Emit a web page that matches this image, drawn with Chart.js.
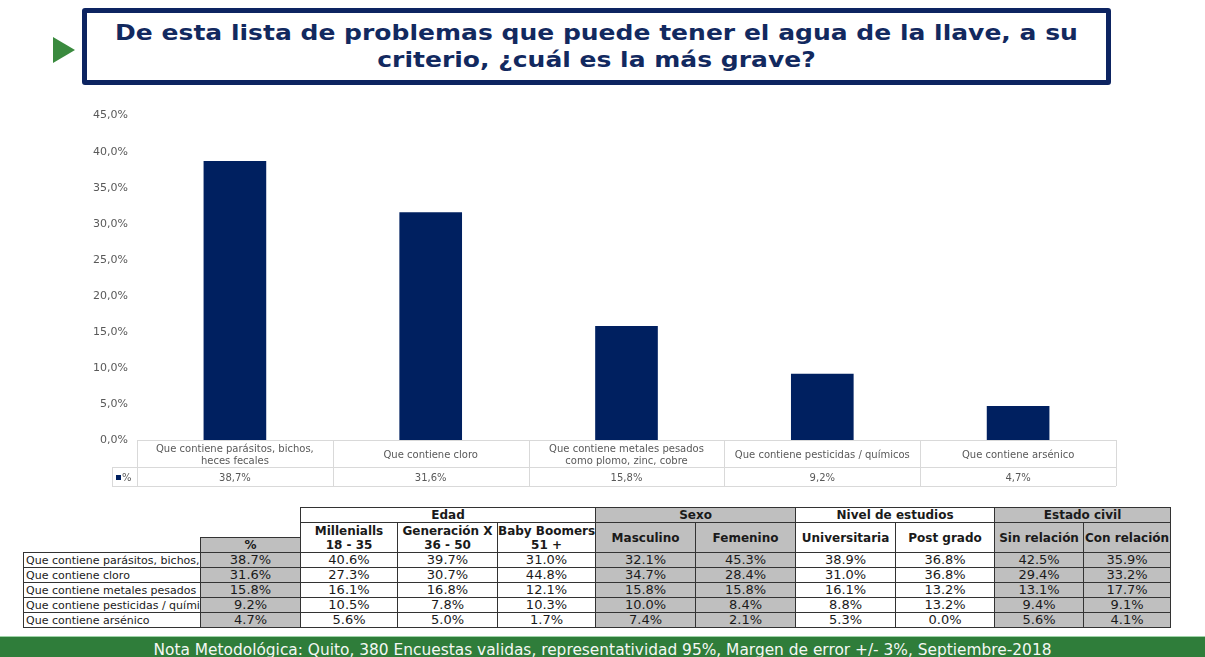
<!DOCTYPE html>
<html>
<head>
<meta charset="utf-8">
<script src="https://cdn.jsdelivr.net/npm/chart.js@4.4.1/dist/chart.umd.min.js"></script>
<style>
  html,body{margin:0;padding:0;background:#fff;}
  body{width:1205px;height:657px;position:relative;overflow:hidden;font-family:"DejaVu Sans",Verdana,sans-serif;}
  #tri{position:absolute;left:53px;top:37px;width:0;height:0;border-top:13px solid transparent;border-bottom:13px solid transparent;border-left:22px solid #3a8a3e;}
  #titlebox{position:absolute;left:82px;top:8px;width:1019px;height:67px;border:5px solid #0d2461;border-radius:3px;}
  #title{position:absolute;left:0;right:0;top:6px;font-weight:bold;font-size:22px;line-height:27px;color:#12295f;text-align:center;transform:scaleX(1.137);transform-origin:50% 50%;}
  #chartwrap{position:absolute;left:0;top:100px;width:1205px;height:390px;}
  #bt{position:absolute;left:23px;top:507px;width:1147px;border-collapse:collapse;table-layout:fixed;}
  #bt td{padding:0;text-align:center;overflow:hidden;white-space:nowrap;color:#1a1a1a;}
  #bt td.b{border:1px solid #333;}
  #bt td.g{background:#bfbfbf;}
  #bt td.h{font-weight:bold;font-size:12px;line-height:14px;}
  #bt td.lab{text-align:left;font-size:11px;padding-left:2px;text-overflow:clip;}
  #bt td.d{font-size:13px;line-height:14px;}
  #footer{position:absolute;left:0;top:636px;width:1205px;height:21px;background:#2f7d3a;border-top:1px solid #9fd3a8;color:#f4f8f4;font-size:15.4px;line-height:21px;padding-top:3px;box-sizing:border-box;text-align:center;white-space:nowrap;}
</style>
</head>
<body>
<div id="tri"></div>
<div id="titlebox"><div id="title">De esta lista de problemas que puede tener el agua de la llave, a su<br>criterio, ¿cuál es la más grave?</div></div>
<div id="chartwrap"><canvas id="c" width="1205" height="390"></canvas></div>
<table id="bt"></table>
<div id="footer">Nota Metodológica: Quito, 380 Encuestas validas, representatividad 95%, Margen de error +/- 3%, Septiembre-2018</div>
<script>
// ---------- DATA ----------
const categories = [
  ["Que contiene parásitos, bichos,", "heces fecales"],
  ["Que contiene cloro"],
  ["Que contiene metales pesados", "como plomo, zinc, cobre"],
  ["Que contiene pesticidas / químicos"],
  ["Que contiene arsénico"]
];
const seriesName = "%";
const values = [38.7, 31.6, 15.8, 9.2, 4.7];
const yTicks = [0, 5, 10, 15, 20, 25, 30, 35, 40, 45];

const rowLabels = [
  "Que contiene parásitos, bichos, heces fecales",
  "Que contiene cloro",
  "Que contiene metales pesados como plomo, zinc, cobre",
  "Que contiene pesticidas / químicos",
  "Que contiene arsénico"
];
const groups = ["Edad", "Sexo", "Nivel de estudios", "Estado civil"];
const groupSpans = [3, 2, 2, 2];
const subHeaders = [
  ["Millenialls", "18 - 35"], ["Generación X", "36 - 50"], ["Baby Boomers", "51 +"],
  ["Masculino"], ["Femenino"],
  ["Universitaria"], ["Post grado"],
  ["Sin relación"], ["Con relación"]
];
const totalCol = [38.7, 31.6, 15.8, 9.2, 4.7];
const millenials = [40.6, 27.3, 16.1, 10.5, 5.6];
const genX = [39.7, 30.7, 16.8, 7.8, 5.0];
const boomers = [31.0, 44.8, 12.1, 10.3, 1.7];
const masculino = [32.1, 34.7, 15.8, 10.0, 7.4];
const femenino = [45.3, 28.4, 15.8, 8.4, 2.1];
const universitaria = [38.9, 31.0, 16.1, 8.8, 5.3];
const postGrado = [36.8, 36.8, 13.2, 13.2, 0.0];
const sinRelacion = [42.5, 29.4, 13.1, 9.4, 5.6];
const conRelacion = [35.9, 33.2, 17.7, 9.1, 4.1];

// ---------- LAYOUT (not data) ----------
const colW = [177, 100, 97, 100, 98, 100, 100, 100, 99, 89, 87];
const grayGroup = [false, true, false, true];

// ---------- BOTTOM TABLE ----------
(function buildTable(){
  const t = document.getElementById('bt');
  let html = '<colgroup>' + colW.map(w => `<col style="width:${w}px">`).join('') + '</colgroup>';
  html += '<tr style="height:15px"><td></td><td></td>';
  groups.forEach((g, i) => {
    html += `<td colspan="${groupSpans[i]}" class="b h${grayGroup[i] ? ' g' : ''}">${g}</td>`;
  });
  html += '</tr>';
  const subGray = [];
  groups.forEach((g, i) => { for (let k = 0; k < groupSpans[i]; k++) subGray.push(grayGroup[i]); });
  html += '<tr style="height:15px"><td></td><td></td>';
  subHeaders.forEach((s, i) => {
    html += `<td rowspan="2" class="b h${subGray[i] ? ' g' : ''}">${s.join('<br>')}</td>`;
  });
  html += '</tr>';
  html += `<tr style="height:15px"><td></td><td class="b h g">${seriesName}</td></tr>`;
  const cols = [millenials, genX, boomers, masculino, femenino, universitaria, postGrado, sinRelacion, conRelacion];
  const fmt = v => v.toFixed(1) + '%';
  rowLabels.forEach((lab, r) => {
    html += `<tr style="height:15px"><td class="b lab">${lab}</td><td class="b d g">${fmt(totalCol[r])}</td>`;
    cols.forEach((c, i) => {
      html += `<td class="b d${subGray[i] ? ' g' : ''}">${fmt(c[r])}</td>`;
    });
    html += '</tr>';
  });
  t.innerHTML = html;
})();

// ---------- CHART ----------
const fmtTick = v => v.toFixed(1).replace('.', ',') + '%';
const dataTablePlugin = {
  id: 'dataTable',
  afterDraw(chart) {
    const {ctx, chartArea, scales} = chart;
    const x = scales.x;
    const n = categories.length;
    const step = x.getPixelForValue(1) - x.getPixelForValue(0);
    const left = x.getPixelForValue(0) - step / 2;
    const right = x.getPixelForValue(n - 1) + step / 2;
    const top = chartArea.bottom;
    const r1 = top + 27, r2 = r1 + 19;
    const legL = left - 25;
    ctx.save();
    ctx.strokeStyle = '#d9d9d9';
    ctx.lineWidth = 1;
    ctx.beginPath();
    const hl = (x0, x1, y) => { ctx.moveTo(x0, Math.round(y) + 0.5); ctx.lineTo(x1, Math.round(y) + 0.5); };
    const vl = (xx, y0, y1) => { ctx.moveTo(Math.round(xx) + 0.5, y0); ctx.lineTo(Math.round(xx) + 0.5, y1); };
    hl(left, right, top);
    hl(legL, right, r1);
    hl(legL, right, r2);
    vl(legL, r1, r2);
    for (let i = 0; i <= n; i++) vl(left + i * step, top, r2);
    ctx.stroke();
    ctx.fillStyle = '#595959';
    ctx.font = '10px "DejaVu Sans", Verdana, sans-serif';
    ctx.textAlign = 'center';
    ctx.textBaseline = 'middle';
    categories.forEach((lines, i) => {
      const cx = x.getPixelForValue(i);
      const lh = 12;
      const y0 = top + 15.5 - (lines.length - 1) * lh / 2;
      lines.forEach((l, k) => ctx.fillText(l, cx, y0 + k * lh));
      ctx.fillText(values[i].toFixed(1).replace('.', ',') + '%', cx, r1 + 11);
    });
    ctx.fillStyle = chart.data.datasets[0].backgroundColor;
    ctx.fillRect(legL + 4, r1 + 8, 5, 5);
    ctx.fillStyle = '#595959';
    ctx.textAlign = 'left';
    ctx.fillText(seriesName, legL + 10, r1 + 11);
    ctx.restore();
  }
};

new Chart(document.getElementById('c'), {
  type: 'bar',
  data: {
    labels: categories,
    datasets: [{
      label: seriesName,
      data: values,
      backgroundColor: '#002060',
      borderWidth: 0,
      categoryPercentage: 1,
      barPercentage: 0.32
    }]
  },
  options: {
    responsive: false,
    animation: false,
    devicePixelRatio: 1,
    layout: { padding: { left: 0, right: 89, top: 13, bottom: 50 } },
    plugins: { legend: { display: false }, tooltip: { enabled: false } },
    scales: {
      x: { display: false },
      y: {
        min: 0, max: 45,
        afterFit(s) { s.width = 137; },
        afterBuildTicks(s) { s.ticks = yTicks.map(v => ({ value: v })); },
        grid: { display: false, drawTicks: false },
        border: { display: false },
        ticks: {
          padding: 9,
          color: '#595959',
          font: { family: '"DejaVu Sans", Verdana, sans-serif', size: 11 },
          callback: v => fmtTick(v)
        }
      }
    }
  },
  plugins: [dataTablePlugin]
});
</script>
</body>
</html>
